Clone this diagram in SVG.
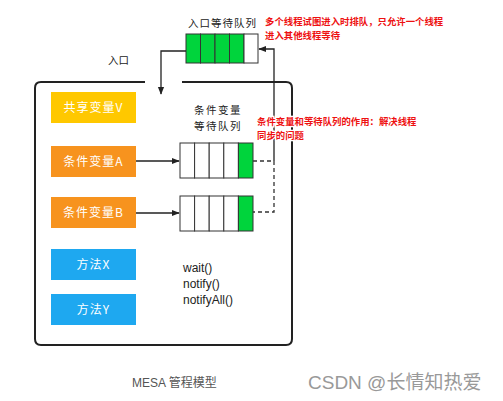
<svg xmlns="http://www.w3.org/2000/svg" width="503" height="401" viewBox="0 0 503 401">
<defs>
<style>
.hand{font-family:"Noto Sans CJK SC","Noto Sans",sans-serif;font-size:10.5px;fill:#222;}
.lbl{font-family:"Noto Sans CJK SC","Noto Sans",sans-serif;font-size:12px;fill:#fff;text-anchor:middle;letter-spacing:1px;}
.red{font-family:"Noto Sans CJK SC","Liberation Sans",sans-serif;font-size:9.4px;font-weight:bold;fill:#ee1111;stroke:#fff;stroke-width:2.5px;paint-order:stroke;}
.code{font-family:"Liberation Sans","Noto Sans",sans-serif;font-size:12px;fill:#222;}
.cell{fill:#fff;stroke:#333;stroke-width:1;}
.g{fill:#00d43c;stroke:#333;stroke-width:1;}
.ln{fill:none;stroke:#222;stroke-width:1.3;}
.dash{fill:none;stroke:#333;stroke-width:1.3;stroke-dasharray:4,3;}
</style>
<marker id="ah" viewBox="0 0 10 10" refX="9" refY="5" markerWidth="6" markerHeight="6" orient="auto">
<path d="M0,1 L10,5 L0,9 z" fill="#222"/>
</marker>
</defs>
<rect width="503" height="401" fill="#fff"/>

<!-- main box -->
<path d="M145,82 L41,82 Q35,82 35,88 L35,339 Q35,345 41,345 L286,345 Q292,345 292,339 L292,88 Q292,82 286,82 L182,82" fill="none" stroke="#222" stroke-width="2"/>

<text class="hand" x="108" y="64">入口</text>
<text class="hand" x="188" y="27" letter-spacing="1">入口等待队列</text>

<g id="entryQueue">
<rect class="g" x="186" y="34" width="14.5" height="29"/>
<rect class="g" x="200.5" y="34" width="14.5" height="29"/>
<rect class="g" x="215" y="34" width="14.5" height="29"/>
<rect class="g" x="229.5" y="34" width="14.5" height="29"/>
<rect class="cell" x="244" y="34" width="14" height="29"/>
</g>

<g id="sharedV">
<rect x="51" y="92" width="85" height="31" fill="#ffc800"/>
<text class="lbl" x="93.5" y="112">共享变量V</text>
</g>
<g id="condA">
<rect x="51" y="146" width="85" height="31" fill="#f7931e"/>
<text class="lbl" x="93.5" y="166">条件变量A</text>
</g>
<g id="condB">
<rect x="51" y="197" width="85" height="31" fill="#f7931e"/>
<text class="lbl" x="93.5" y="217">条件变量B</text>
</g>
<g id="methodX">
<rect x="51" y="249" width="85" height="31" fill="#1ea8f0"/>
<text class="lbl" x="93.5" y="269">方法X</text>
</g>
<g id="methodY">
<rect x="51" y="294" width="85" height="31" fill="#1ea8f0"/>
<text class="lbl" x="93.5" y="314">方法Y</text>
</g>

<text class="hand" x="194" y="114" letter-spacing="1.5">条件变量</text>
<text class="hand" x="194" y="130" letter-spacing="1.5">等待队列</text>

<g id="queueA">
<rect class="cell" x="180" y="143" width="14.6" height="35"/>
<rect class="cell" x="194.6" y="143" width="14.6" height="35"/>
<rect class="cell" x="209.2" y="143" width="14.6" height="35"/>
<rect class="cell" x="223.8" y="143" width="14.6" height="35"/>
<rect class="g" x="238.4" y="143" width="14.6" height="35"/>
</g>
<g id="queueB">
<rect class="cell" x="180" y="196" width="14.6" height="35"/>
<rect class="cell" x="194.6" y="196" width="14.6" height="35"/>
<rect class="cell" x="209.2" y="196" width="14.6" height="35"/>
<rect class="cell" x="223.8" y="196" width="14.6" height="35"/>
<rect class="g" x="238.4" y="196" width="14.6" height="35"/>
</g>

<g id="methods">
<text class="code" x="183" y="272">wait()</text>
<text class="code" x="183" y="288">notify()</text>
<text class="code" x="183" y="304">notifyAll()</text>
</g>

<g id="connectors">
<path class="ln" d="M186,51 L161,51 L161,94" marker-end="url(#ah)"/>
<path class="ln" d="M274,161 L274,49 L259,49" marker-end="url(#ah)"/>
<path class="dash" d="M253,161 L274,161 L274,212 L253,212"/>
<path class="ln" d="M136,161 L179,161" marker-end="url(#ah)"/>
<path class="ln" d="M136,213 L179,213" marker-end="url(#ah)"/>
</g>

<text class="red" x="265" y="25">多个线程试图进入时排队，只允许一个线程</text>
<text class="red" x="265" y="39">进入其他线程等待</text>
<text class="red" x="257" y="125">条件变量和等待队列的作用：解决线程</text>
<text class="red" x="257" y="139">同步的问题</text>

<text x="132" y="387" font-family="'Liberation Sans','Noto Sans CJK SC',sans-serif" font-size="12" fill="#555">MESA 管程模型</text>
<text x="308" y="389" font-family="'Liberation Sans','Noto Sans CJK SC',sans-serif" font-size="19" fill="#999">CSDN @长情知热爱</text>
</svg>
